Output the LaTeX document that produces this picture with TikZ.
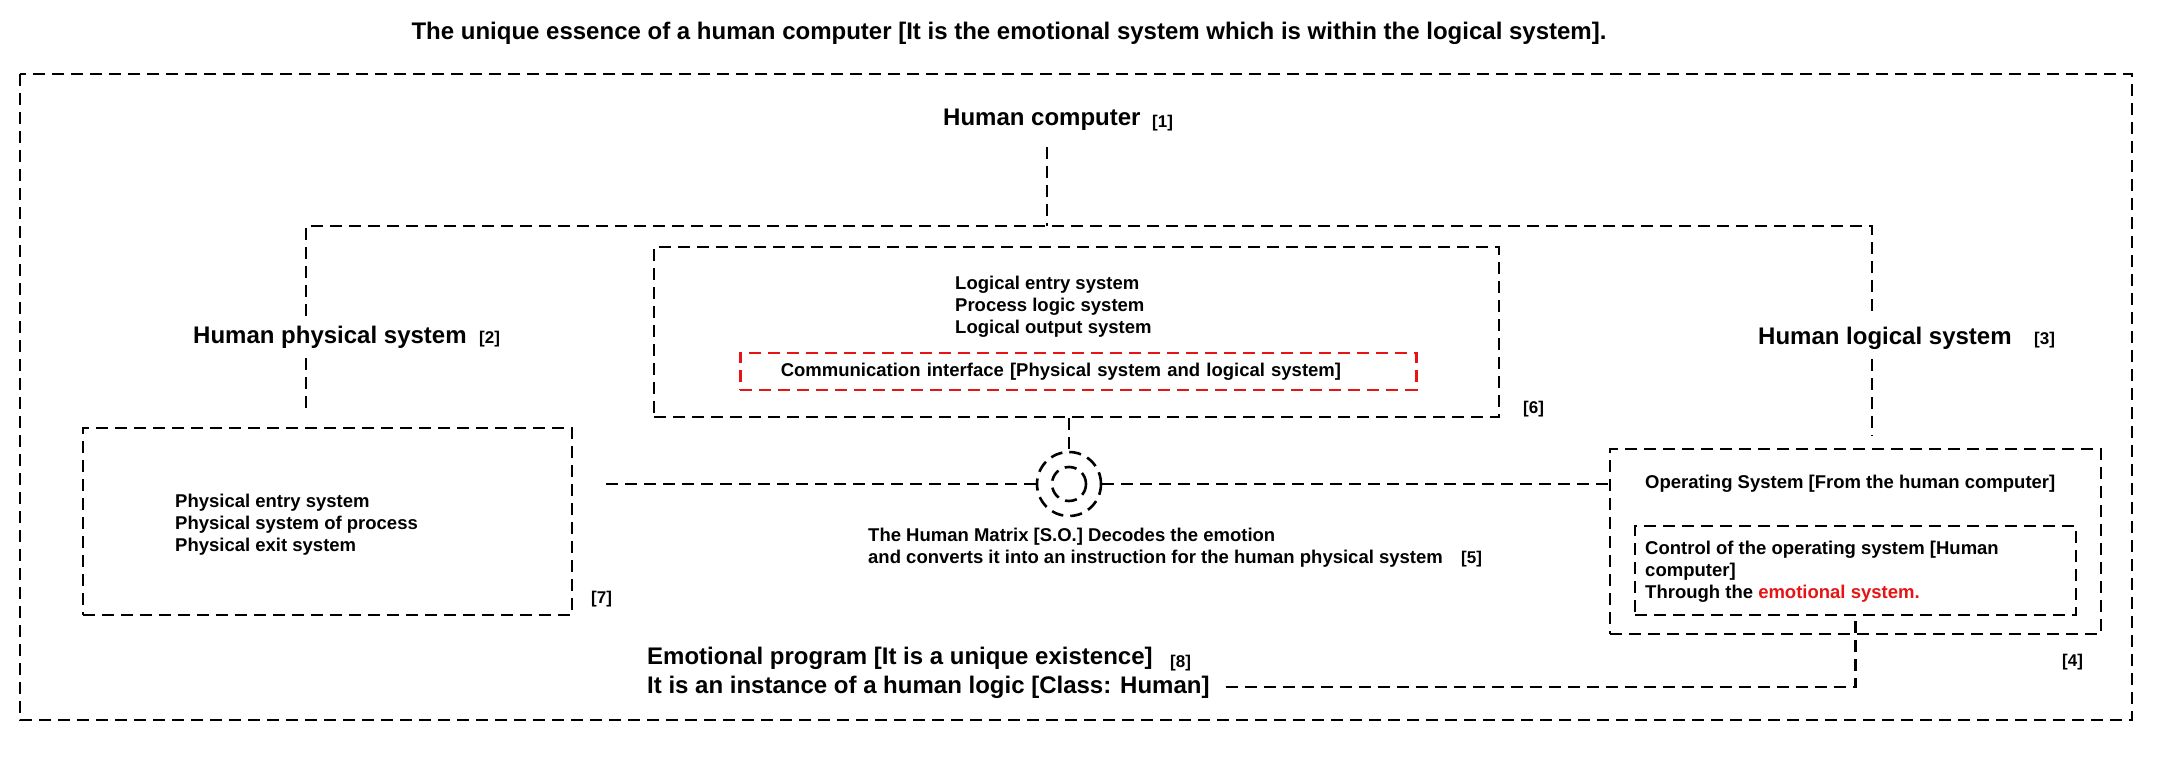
\documentclass[tikz,border=0pt]{standalone}
\usepackage{fontspec}
\setmainfont{Liberation Sans}
\definecolor{ifaceRed}{RGB}{230,20,20}
\tikzset{
  dashln/.style={line width=2.6pt, dash pattern=on 12pt off 7pt},
  dbox/.style={draw, dashln, rectangle, inner sep=0pt},
  link/.style={dashln},
  biglbl/.style={font=\fontsize{24}{29}\selectfont\bfseries, inner sep=0pt},
  treelbl/.style={biglbl, inner ysep=10pt},
  smltxt/.style={font=\fontsize{18.5}{22}\selectfont\bfseries, align=left, inner sep=0pt},
  numlbl/.style={font=\fontsize{17}{20}\selectfont\bfseries, inner sep=0pt},
}

\begin{document}
\begin{tikzpicture}[x=1pt, y=-1pt]
  \useasboundingbox (0,0) rectangle (2162,770);
  % --- title and outer frame ---
  \node[biglbl] (title) at (1009,33)
    {The unique essence of a human computer [It is the emotional system which is within the logical system].};
  \draw[dashln] (20,74) rectangle (2132,720);

  % --- top of the tree ---
  \node[biglbl, anchor=west] (hc) at (943,120) {Human computer};
  \node[numlbl, anchor=west] (n1) at (1152,123) {[1]};
  \coordinate (jn) at (1047,226);
  \coordinate (lj) at (306,226);
  \coordinate (rj) at (1872,226);
  \node[treelbl, anchor=west] (hps) at (193,337) {Human physical system};
  \node[numlbl, anchor=west] (n2) at (479,339) {[2]};
  \node[treelbl, anchor=west] (hls) at (1758,338) {Human logical system};
  \node[numlbl, anchor=west] (n3) at (2034,340) {[3]};

  % --- logical box with the interface ---
  \node[dbox, minimum width=845pt, minimum height=170pt] (logbox) at (1076.5,332) {};
  \node[smltxt, anchor=west] (logtxt) at (955,307)
    {Logical entry system\\Process logic system\\Logical output system};
  \node[smltxt, dbox, draw=ifaceRed, anchor=west, minimum height=37pt, text width=595pt,
    inner xsep=40.5pt] (iface) at (739,371.5)
    {Communication interface [Physical system and logical system]};
  \node[numlbl, anchor=west] (n6) at (1523,409) {[6]};

  % --- physical box ---
  \node[dbox, minimum width=489pt, minimum height=187pt] (physbox) at (327.5,521.5) {};
  \node[smltxt, anchor=west] (phystxt) at (175,525)
    {Physical entry system\\Physical system of process\\Physical exit system};
  \node[numlbl, anchor=west] (n7) at (591,599) {[7]};

  % --- the human matrix ---
  \node[dbox, circle, minimum size=64pt] (som) at (1069,484) {};
  \node[dbox, circle, minimum size=34pt] (soi) at (som) {};
  \node[smltxt, anchor=west] (mtxt) at (868,548)
    {The Human Matrix [S.O.] Decodes the emotion\\and converts it into an instruction for the human physical system};
  \node[numlbl, anchor=west] (n5) at (1461,559) {[5]};

  % --- operating system ---
  \node[dbox, minimum width=491pt, minimum height=185pt] (osbox) at (1855.5,541.5) {};
  \node[smltxt, anchor=west] (ostxt) at (1645,484) {Operating System [From the human computer]};
  \node[dbox, minimum width=441pt, minimum height=89pt] (ctrlbox) at (1855.5,570.5) {};
  \node[smltxt, anchor=west] (ctrltxt) at (1645,572)
    {Control of the operating system [Human\\computer]\\Through the {\color{ifaceRed}emotional system.}};
  \node[numlbl, anchor=west] (n4) at (2062,662) {[4]};

  % --- emotional program ---
  \node[biglbl, anchor=west] (emo1) at (647,658) {Emotional program [It is a unique existence]};
  \node[numlbl, anchor=west] (n8) at (1170,663) {[8]};
  \node[biglbl, anchor=west] (emo2) at (647,687) {It is an instance of a human logic [Class: Human]};

  % connectors
  \draw[link, shorten <=16pt] (hc.south -| jn) -- (jn);
  \draw[link] (hps.north -| lj) -- (lj) -- (rj) -- (hls.north -| rj);
  \draw[link, shorten >=15pt] (hps.south -| lj) -- (physbox.north -| lj);
  \draw[link, shorten >=12pt] (hls.south -| rj) -- (osbox.north -| rj);
  \draw[link] (logbox.south -| som) -- (som.north);
  \draw[link, shorten >=29pt] (som.west) -- (som.west -| physbox.east);
  \draw[link] (som.east) -- (som.east -| osbox.west);
  \draw[link, shorten <=16pt] (emo2.east) -| (ctrlbox.south);
\end{tikzpicture}
\end{document}
